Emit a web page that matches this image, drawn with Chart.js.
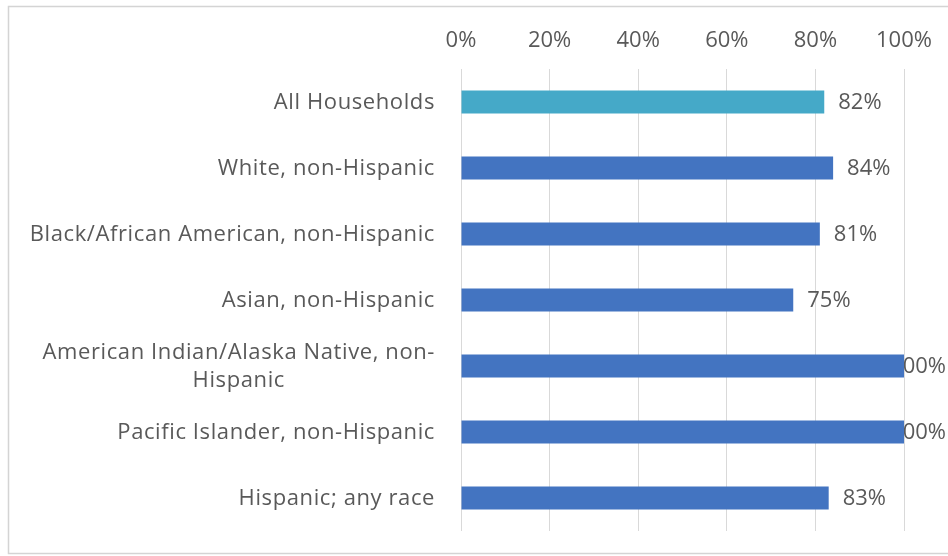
<!DOCTYPE html>
<html>
<head>
<meta charset="utf-8">
<script src="https://cdn.jsdelivr.net/npm/chart.js@4/dist/chart.umd.min.js"></script>
<style>
  html, body { margin: 0; padding: 0; background: #ffffff; }
  #wrap { width: 948px; height: 556px; position: relative; }
</style>
</head>
<body>
<div id="wrap"><canvas id="chart"></canvas></div>
<script>
// Share of households by race/ethnicity
const categories = [
  "All Households",
  "White, non-Hispanic",
  "Black/African American, non-Hispanic",
  "Asian, non-Hispanic",
  ["American Indian/Alaska Native, non-", "Hispanic"],
  "Pacific Islander, non-Hispanic",
  "Hispanic; any race"
];
const values = [82, 84, 81, 75, 100, 100, 83];
const tickValues = [0, 20, 40, 60, 80, 100];

const TEXT = '#595959';
const FONT_FAMILY = '"Open Sans", Lato, sans-serif';
const FONT_SIZE = 22;
const barColors = values.map((v, i) => i === 0 ? '#45A9C8' : '#4374C1');

// Outer frame of the chart
const framePlugin = {
  id: 'frame',
  beforeDraw(chart) {
    const c = chart.ctx;
    c.save();
    c.fillStyle = '#ffffff';
    c.fillRect(0, 0, chart.width, chart.height);
    c.strokeStyle = '#D4D4D4';
    c.lineWidth = 1.5;
    c.strokeRect(8.5, 6.5, chart.width + 20, chart.height - 9);
    c.restore();
  }
};

// Category labels, each line centered on the widest line, right-aligned block
const categoryLabels = {
  id: 'categoryLabels',
  afterDraw(chart) {
    const c = chart.ctx;
    const y = chart.scales.y;
    const right = chart.chartArea.left - 26;
    const lh = 28;
    c.save();
    c.font = FONT_SIZE + 'px ' + FONT_FAMILY;
    c.letterSpacing = '0.6px';
    c.fillStyle = TEXT;
    c.textBaseline = 'middle';
    c.textAlign = 'center';
    categories.forEach((lab, i) => {
      const lines = Array.isArray(lab) ? lab : [lab];
      const w = Math.max(...lines.map(l => c.measureText(l).width));
      const cx = right - w / 2;
      const cy = y.getPixelForValue(i) + 1;
      lines.forEach((l, k) => {
        c.fillText(l, cx, cy + (k - (lines.length - 1) / 2) * lh);
      });
    });
    c.restore();
  }
};

// Value labels at the end of each bar
const valueLabels = {
  id: 'valueLabels',
  beforeDatasetsDraw(chart) {
    const c = chart.ctx;
    const meta = chart.getDatasetMeta(0);
    c.save();
    c.font = FONT_SIZE + 'px ' + FONT_FAMILY;
    c.fillStyle = TEXT;
    c.textBaseline = 'middle';
    c.textAlign = 'left';
    meta.data.forEach((bar, i) => {
      const txt = values[i] + '%';
      const w = c.measureText(txt).width;
      const x = Math.min(bar.x + 14, chart.width - w - 2);
      c.fillText(txt, x, bar.y + 1);
    });
    c.restore();
  }
};

new Chart(document.getElementById('chart'), {
  type: 'bar',
  data: {
    labels: categories,
    datasets: [{
      data: values,
      backgroundColor: barColors,
      borderWidth: 0,
      barPercentage: 0.35,
      categoryPercentage: 1.0
    }]
  },
  options: {
    indexAxis: 'y',
    responsive: true,
    maintainAspectRatio: false,
    animation: false,
    events: [],
    layout: { padding: { left: 0, right: 44, top: 0, bottom: 25 } },
    plugins: {
      legend: { display: false },
      tooltip: { enabled: false },
      title: { display: false }
    },
    scales: {
      x: {
        position: 'top',
        min: 0,
        max: 100,
        afterBuildTicks(scale) {
          scale.ticks = tickValues.map(v => ({ value: v }));
        },
        afterFit(scale) { scale.height = 69; },
        ticks: {
          color: TEXT,
          font: { family: FONT_FAMILY, size: FONT_SIZE },
          padding: 15,
          maxRotation: 0,
          callback: v => v + '%'
        },
        grid: { color: '#D9D9D9', lineWidth: 1, drawTicks: false },
        border: { display: false }
      },
      y: {
        afterFit(scale) { scale.width = 461; },
        ticks: { display: false },
        grid: { display: false },
        border: { display: false }
      }
    }
  },
  plugins: [framePlugin, valueLabels, categoryLabels]
});
</script>
</body>
</html>
